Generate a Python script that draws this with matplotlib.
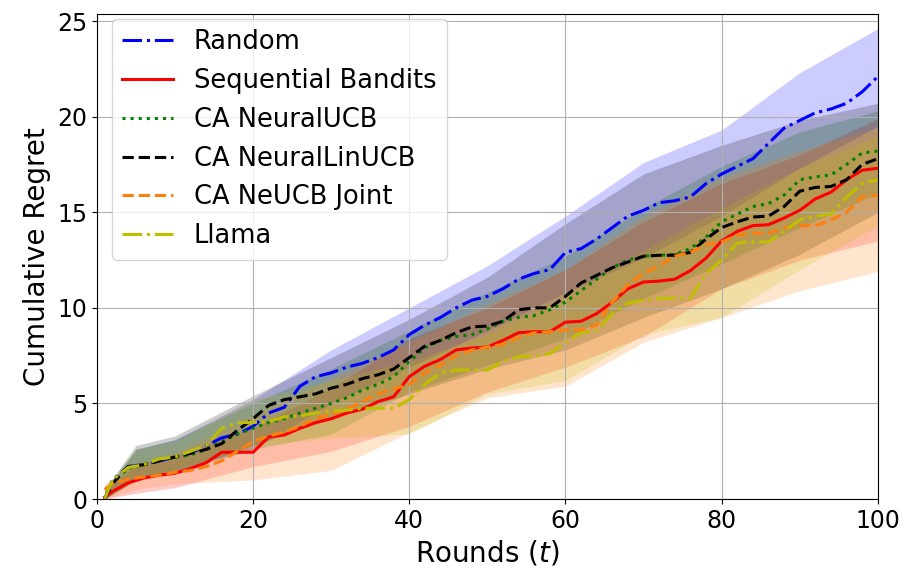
import numpy as np
import matplotlib
matplotlib.use('Agg')
import matplotlib.pyplot as plt

rounds = [1, 2, 4, 6, 8, 10, 12, 14, 16, 18, 20, 22, 24, 26, 28, 30, 32, 34, 36, 38, 40,
          42, 44, 46, 48, 50, 52, 54, 56, 58, 60, 62, 64, 66, 68, 70, 72, 74, 76, 78, 80,
          82, 84, 86, 88, 90, 92, 94, 96, 98, 100]

random_mean = [0, 1.0, 1.7, 1.8, 2.0, 2.2, 2.4, 2.8, 3.2, 3.4, 3.8, 4.5, 4.8, 5.9, 6.4, 6.6,
               6.9, 7.1, 7.4, 7.8, 8.6, 9.1, 9.5, 10.0, 10.4, 10.6, 11.0, 11.5, 11.8, 12.0,
               12.9, 13.1, 13.6, 14.2, 14.8, 15.1, 15.5, 15.6, 15.8, 16.5, 17.0, 17.4, 17.8,
               18.6, 19.4, 19.8, 20.2, 20.4, 20.7, 21.3, 22.1]
seq_mean = [0.1, 0.4, 0.85, 1.1, 1.25, 1.35, 1.6, 1.9, 2.45, 2.45, 2.45, 3.25, 3.35, 3.7,
            4.0, 4.2, 4.5, 4.7, 5.1, 5.35, 6.4, 6.95, 7.3, 7.8, 7.9, 7.95, 8.3, 8.7, 8.75,
            8.75, 9.25, 9.3, 9.7, 10.3, 11.0, 11.35, 11.4, 11.5, 11.95, 12.6, 13.5, 14.0,
            14.3, 14.35, 14.7, 15.1, 15.7, 16.05, 16.7, 17.2, 17.3]
neural_mean = [0, 0.9, 1.6, 1.8, 2.0, 2.2, 2.3, 2.6, 3.0, 3.4, 3.7, 4.0, 4.2, 4.5, 4.75, 5.0,
               5.3, 5.7, 6.0, 6.4, 7.2, 7.9, 8.3, 8.5, 8.6, 8.9, 9.3, 9.5, 9.6, 9.9, 10.3,
               10.9, 11.5, 12.1, 12.5, 12.7, 12.75, 12.8, 13.1, 13.7, 14.5, 14.9, 15.3,
               15.45, 15.9, 16.7, 16.85, 16.95, 17.5, 18.1, 18.2]
linucb_mean = [0, 0.8, 1.7, 1.8, 2.0, 2.2, 2.4, 2.6, 2.9, 3.6, 4.2, 4.9, 5.2, 5.35, 5.5, 5.8,
               6.0, 6.3, 6.5, 6.8, 7.4, 8.0, 8.3, 8.7, 9.0, 9.05, 9.3, 9.9, 10.0, 10.0, 10.6,
               11.3, 11.7, 12.1, 12.4, 12.7, 12.75, 12.75, 12.9, 13.6, 14.2, 14.5, 14.75,
               14.8, 15.3, 16.1, 16.3, 16.35, 16.7, 17.5, 17.8]
joint_mean = [0.5, 0.8, 1.05, 1.15, 1.25, 1.4, 1.5, 1.7, 2.0, 2.5, 3.0, 3.3, 3.5, 3.8, 4.2,
              4.45, 4.7, 5.1, 5.5, 5.75, 6.0, 6.6, 7.0, 7.5, 7.8, 7.95, 8.1, 8.45, 8.7, 8.75,
              8.85, 8.85, 9.1, 10.3, 11.2, 11.8, 12.2, 12.7, 12.9, 13.3, 13.45, 13.8, 13.9,
              13.9, 14.2, 14.3, 14.3, 14.6, 15.0, 15.8, 15.9]
llama_mean = [0, 1.0, 1.65, 1.8, 2.1, 2.2, 2.5, 2.8, 3.7, 4.0, 4.0, 4.05, 4.3, 4.35, 4.5, 4.6,
              4.65, 4.75, 4.75, 4.75, 5.2, 6.0, 6.6, 6.75, 6.75, 6.75, 7.2, 7.45, 7.5, 7.6,
              8.2, 8.7, 8.8, 9.7, 10.25, 10.4, 10.5, 10.5, 10.5, 11.8, 12.5, 13.4, 13.45,
              13.45, 14.0, 14.6, 14.8, 14.9, 15.8, 16.5, 16.7]

# shaded band edges, read at coarser rounds
band_rounds = [1, 5, 10, 20, 30, 40, 50, 60, 70, 80, 90, 100]
random_hi = [0.3, 2.6, 3.1, 5.2, 7.8, 10.0, 12.2, 14.8, 17.6, 19.3, 22.3, 24.6]
random_lo = [0.0, 1.0, 1.5, 2.6, 5.0, 6.9, 8.8, 10.8, 12.6, 14.8, 17.3, 19.5]
seq_hi = [0.4, 1.8, 2.3, 3.7, 5.8, 8.4, 10.0, 12.0, 14.5, 16.5, 18.0, 19.9]
seq_lo = [0.0, 0.3, 0.6, 1.7, 2.5, 3.8, 5.6, 6.9, 8.5, 11.0, 12.5, 13.5]
neural_hi = [0.5, 2.6, 3.1, 5.0, 6.8, 8.8, 10.8, 12.7, 15.2, 17.4, 19.2, 20.3]
neural_lo = [0.0, 1.0, 1.4, 2.6, 3.4, 5.6, 7.0, 8.4, 10.5, 12.3, 14.2, 16.0]
linucb_hi = [0.5, 2.8, 3.3, 5.4, 7.4, 9.4, 11.6, 14.4, 17.0, 18.5, 19.8, 20.7]
linucb_lo = [0.0, 1.0, 1.4, 2.8, 4.2, 5.5, 6.8, 7.8, 9.5, 11.0, 12.8, 15.0]
joint_hi = [0.8, 1.8, 2.4, 4.4, 6.3, 8.2, 10.2, 12.0, 14.8, 16.8, 18.2, 19.4]
joint_lo = [0.0, 0.5, 0.8, 1.0, 1.5, 3.5, 5.3, 5.9, 8.2, 9.5, 10.9, 11.9]
llama_hi = [0.5, 2.6, 3.0, 5.2, 6.2, 7.2, 8.6, 10.6, 13.0, 15.2, 17.3, 19.0]
llama_lo = [0.0, 1.0, 1.5, 2.8, 3.2, 3.4, 5.5, 6.2, 8.6, 9.5, 12.0, 14.3]

series = [
    ('Random', random_mean, random_lo, random_hi, 'b', '-.'),
    ('Sequential Bandits', seq_mean, seq_lo, seq_hi, 'r', '-'),
    ('CA NeuralUCB', neural_mean, neural_lo, neural_hi, 'g', ':'),
    ('CA NeuralLinUCB', linucb_mean, linucb_lo, linucb_hi, 'k', '--'),
    ('CA NeUCB Joint', joint_mean, joint_lo, joint_hi, 'tab:orange', '--'),
    ('Llama', llama_mean, llama_lo, llama_hi, 'y', '-.'),
]

fig = plt.figure(figsize=(9.05, 5.81), dpi=100)
ax = fig.add_axes([0.107, 0.141, 0.863, 0.835])

for name, mean, lo, hi, col, ls in series:
    ax.plot(rounds, mean, color=col, linestyle=ls, linewidth=2.2, label=name)
    ax.fill_between(band_rounds, lo, hi, color=col, alpha=0.2, linewidth=0)

ax.set_xlim(0, 100)
ax.set_ylim(0, 25.37)
ax.set_xticks([0, 20, 40, 60, 80, 100])
ax.set_yticks([0, 5, 10, 15, 20, 25])
ax.tick_params(labelsize=17)
ax.set_xlabel('Rounds ($t$)', fontsize=20)
ax.set_ylabel('Cumulative Regret', fontsize=20)
ax.grid(True)
ax.legend(loc='upper left', bbox_to_anchor=(0.019, 0.99), borderaxespad=0, fontsize=18.5)

fig.savefig('out.png', dpi=100)
